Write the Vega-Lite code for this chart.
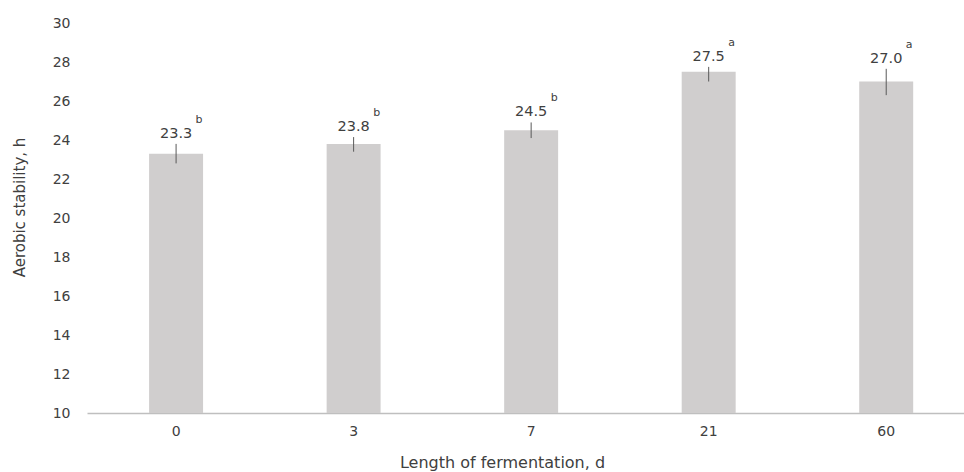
{
  "$schema": "https://vega.github.io/schema/vega-lite/v6.json",
  "width": 877,
  "height": 390,
  "autosize": {"type": "none"},
  "padding": {"left": 87, "top": 23, "right": 0, "bottom": 59},
  "background": "white",
  "config": {
    "view": {"stroke": null},
    "font": "DejaVu Sans",
    "axis": {"labelFont": "DejaVu Sans", "titleFont": "DejaVu Sans", "labelColor": "#404040", "titleColor": "#404040", "titleFontWeight": "normal", "grid": false, "ticks": false, "labelOverlap": false},
    "axisY": {"values": [10, 12, 14, 16, 18, 20, 22, 24, 26, 28, 30], "labelOverlap": false, "domain": false, "labelFontSize": 14, "titleFontSize": 15, "labelPadding": 17, "titlePadding": 25, "titleY": 184}
  },
  "data": {
    "values": [
      {"day": "0", "value": 23.3, "lo": 22.8, "hi": 23.8, "label": "23.3", "letter": "b"},
      {"day": "3", "value": 23.8, "lo": 23.4, "hi": 24.15, "label": "23.8", "letter": "b"},
      {"day": "7", "value": 24.5, "lo": 24.1, "hi": 24.9, "label": "24.5", "letter": "b"},
      {"day": "21", "value": 27.5, "lo": 27.0, "hi": 27.75, "label": "27.5", "letter": "a"},
      {"day": "60", "value": 27.0, "lo": 26.3, "hi": 27.65, "label": "27.0", "letter": "a"}
    ]
  },
  "encoding": {
    "x": {
      "field": "day", "type": "ordinal", "sort": null,
      "scale": {"paddingInner": 0.696, "paddingOuter": 0.318, "align": 0.55},
      "axis": {"title": "Length of fermentation, d", "labelAngle": 0, "labelFontSize": 14, "titleFontSize": 16, "labelPadding": 11, "titlePadding": 16, "titleX": 415, "domainColor": "#bfbfbf", "domainWidth": 1.5}
    }
  },
  "layer": [
    {
      "mark": {"type": "bar", "color": "#d0cece"},
      "encoding": {
        "y": {"field": "value", "type": "quantitative", "scale": {"domain": [10, 30], "zero": false, "nice": false}, "title": "Aerobic stability, h"},
        "y2": {"datum": 10}
      }
    },
    {
      "mark": {"type": "rule", "color": "#595959", "strokeWidth": 1},
      "encoding": {
        "y": {"field": "lo", "type": "quantitative", "title": "Aerobic stability, h"},
        "y2": {"field": "hi"}
      }
    },
    {
      "mark": {"type": "text", "fontSize": 14.5, "color": "#404040", "baseline": "middle", "dy": -10},
      "encoding": {
        "y": {"field": "hi", "type": "quantitative", "title": "Aerobic stability, h"},
        "text": {"field": "label"}
      }
    },
    {
      "mark": {"type": "text", "fontSize": 11, "color": "#404040", "baseline": "middle", "dx": 23, "dy": -24},
      "encoding": {
        "y": {"field": "hi", "type": "quantitative", "title": "Aerobic stability, h"},
        "text": {"field": "letter"}
      }
    }
  ]
}
